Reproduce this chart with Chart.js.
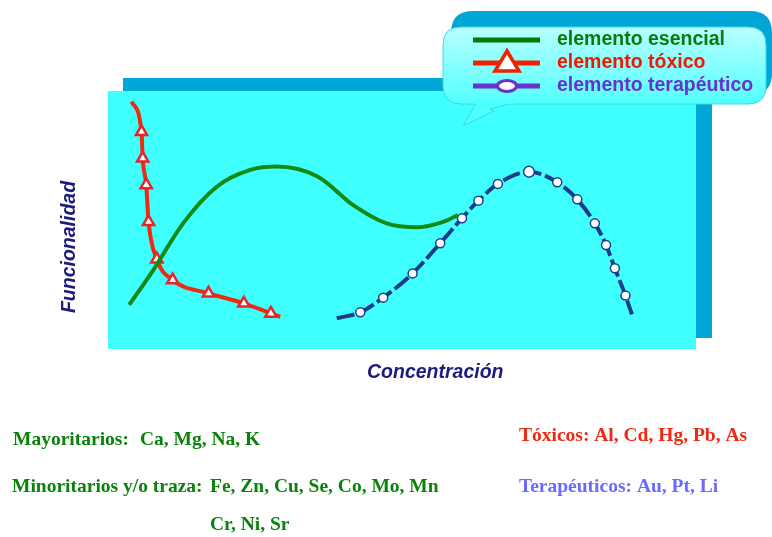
<!DOCTYPE html>
<html>
<head>
<meta charset="utf-8">
<script src="https://cdn.jsdelivr.net/npm/chart.js@4.4.1/dist/chart.umd.min.js"></script>
<style>
  html, body { margin: 0; padding: 0; background: #ffffff; }
  #wrap { width: 772px; height: 537px; }
</style>
</head>
<body>
<div id="wrap"><canvas id="c" width="772" height="537"></canvas></div>
<script>
// Series names shown in the callout legend
const seriesLabels = ['elemento esencial', 'elemento tóxico', 'elemento terapéutico'];

// Essential element: functionality vs concentration (0–100 scales)
const esencialX = [3.6, 7.7, 12.8, 18.5, 24.2, 28.7, 35.7, 41.7, 47.4, 52.5, 57.0, 59.5];
const esencialY = [17.1, 30.6, 48.8, 62.9, 69.4, 70.7, 66.8, 55.8, 48.7, 47.2, 49.3, 51.9];

// Toxic element
const toxicoX = [4.0, 5.7, 5.9, 6.5, 6.9, 8.3, 11.0, 17.1, 23.1, 27.7, 29.3];
const toxicoY = [95.9, 84.2, 73.9, 63.6, 49.3, 34.8, 26.7, 21.6, 17.7, 13.8, 12.5];
const toxicoMarks = [0, 1, 1, 1, 1, 1, 1, 1, 1, 1, 0];

// Therapeutic element
const terapeuticoX = [38.9, 42.9, 46.8, 51.8, 56.5, 60.2, 63.0, 66.3, 71.6, 76.4, 79.8, 82.8, 84.7, 86.2, 88.0, 89.1];
const terapeuticoY = [11.9, 14.2, 19.9, 29.3, 41.0, 50.7, 57.5, 64.0, 68.7, 64.6, 58.0, 48.7, 40.3, 31.3, 20.7, 13.4];
const terapeuticoMarks = [0, 1, 1, 1, 1, 1, 1, 1, 1.2, 1, 1, 1, 1, 1, 1, 0];

// Axis titles and element groups listed under the chart
const axisTitleX = 'Concentración';
const axisTitleY = 'Funcionalidad';
const grupos = [
  { label: 'Mayoritarios:', elementos: 'Ca, Mg, Na, K', color: '#0b820b' },
  { label: 'Minoritarios y/o traza:', elementos: 'Fe, Zn, Cu, Se, Co, Mo, Mn', resto: 'Cr, Ni, Sr', color: '#0b820b' },
  { label: 'Tóxicos:', elementos: 'Al, Cd, Hg, Pb, As', color: '#ee2a14' },
  { label: 'Terapéuticos:', elementos: 'Au, Pt, Li', color: '#6a6aff' }
];

const toPoints = (xs, ys) => xs.map((x, i) => ({ x: x, y: ys[i] }));

const COL_GREEN = '#138a13';
const COL_RED = '#ee2a10';
const COL_NAVY = '#1b3c88';

// Cyan plot panel with its offset darker backdrop
const panelPlugin = {
  id: 'panel',
  beforeDraw(chart) {
    const { ctx, chartArea: a } = chart;
    ctx.save();
    ctx.fillStyle = '#00a6d6';
    ctx.fillRect(a.left + 15, a.top - 13, a.right - a.left + 1, a.bottom - a.top + 2);
    ctx.fillStyle = '#40ffff';
    ctx.fillRect(a.left, a.top, a.right - a.left, a.bottom - a.top);
    ctx.restore();
  }
};

function roundRect(ctx, x, y, w, h, r) {
  ctx.beginPath();
  ctx.moveTo(x + r, y);
  ctx.lineTo(x + w - r, y);
  ctx.quadraticCurveTo(x + w, y, x + w, y + r);
  ctx.lineTo(x + w, y + h - r);
  ctx.quadraticCurveTo(x + w, y + h, x + w - r, y + h);
  ctx.lineTo(x + r, y + h);
  ctx.quadraticCurveTo(x, y + h, x, y + h - r);
  ctx.lineTo(x, y + r);
  ctx.quadraticCurveTo(x, y, x + r, y);
  ctx.closePath();
}

// Speech-bubble legend, axis titles and the element lists
const decorPlugin = {
  id: 'decor',
  afterDraw(chart) {
    const ctx = chart.ctx;
    ctx.save();

    // bubble backdrop
    ctx.fillStyle = '#00a6d6';
    roundRect(ctx, 451, 11, 321, 84, 22);
    ctx.fill();

    // bubble body with tail
    const grad = ctx.createLinearGradient(0, 27, 0, 108);
    grad.addColorStop(0, '#b8ffff');
    grad.addColorStop(0.45, '#8affff');
    grad.addColorStop(1, '#4dffff');
    roundRect(ctx, 443, 27, 323, 77, 18);
    ctx.fillStyle = grad;
    ctx.fill();
    ctx.strokeStyle = '#3cd8e8';
    ctx.lineWidth = 1;
    ctx.stroke();
    ctx.beginPath();
    ctx.moveTo(476, 103);
    ctx.lineTo(463, 126);
    ctx.lineTo(494, 111);
    ctx.lineTo(490, 109);
    ctx.lineTo(512, 103);
    ctx.closePath();
    ctx.fillStyle = '#4dffff';
    ctx.fill();
    ctx.strokeStyle = '#3cd8e8';
    ctx.stroke();
    ctx.fillStyle = '#4dffff';
    ctx.fillRect(474, 99, 40, 5);

    // legend rows
    const rows = [
      { y: 40, line: '#007a00', text: '#0a7a0a' },
      { y: 63, line: '#ee2200', text: '#ee1a00' },
      { y: 86, line: '#6633cc', text: '#6633cc' }
    ];
    rows.forEach((r, i) => {
      ctx.strokeStyle = r.line;
      ctx.lineWidth = 5;
      ctx.beginPath();
      ctx.moveTo(473, r.y);
      ctx.lineTo(540, r.y);
      ctx.stroke();
      if (i === 1) {
        ctx.beginPath();
        ctx.moveTo(507, 51);
        ctx.lineTo(519, 71);
        ctx.lineTo(495, 71);
        ctx.closePath();
        ctx.fillStyle = '#ffffff';
        ctx.fill();
        ctx.lineWidth = 3.5;
        ctx.lineJoin = 'miter';
        ctx.stroke();
      }
      if (i === 2) {
        ctx.beginPath();
        ctx.ellipse(507, 86, 9.5, 5.5, 0, 0, Math.PI * 2);
        ctx.fillStyle = '#ffffff';
        ctx.fill();
        ctx.lineWidth = 3;
        ctx.stroke();
      }
      ctx.fillStyle = r.text;
      ctx.font = "bold 19.5px 'Liberation Sans', Arial, sans-serif";
      ctx.textBaseline = 'middle';
      ctx.textAlign = 'left';
      ctx.fillText(chart.data.datasets[i].label, 557, r.y);
    });

    // axis titles
    ctx.fillStyle = '#1c1c7c';
    ctx.font = "italic bold 19.5px 'Liberation Sans', Arial, sans-serif";
    ctx.textBaseline = 'alphabetic';
    ctx.textAlign = 'left';
    ctx.fillText(axisTitleX, 367, 378);
    ctx.save();
    ctx.translate(75, 247);
    ctx.rotate(-Math.PI / 2);
    ctx.textAlign = 'center';
    ctx.fillText(axisTitleY, 0, 0);
    ctx.restore();

    // element groups
    ctx.font = "bold 19.5px 'Liberation Serif', 'Times New Roman', serif";
    ctx.textAlign = 'left';
    ctx.fillStyle = grupos[0].color;
    ctx.fillText(grupos[0].label, 13, 445);
    ctx.fillText(grupos[0].elementos, 140, 445);
    ctx.fillStyle = grupos[1].color;
    ctx.fillText(grupos[1].label, 12, 492);
    ctx.fillText(grupos[1].elementos, 210, 492);
    ctx.fillText(grupos[1].resto, 210, 530);
    ctx.fillStyle = grupos[2].color;
    ctx.fillText(grupos[2].label + ' ' + grupos[2].elementos, 519, 441);
    ctx.fillStyle = grupos[3].color;
    ctx.fillText(grupos[3].label + ' ' + grupos[3].elementos, 519, 492);

    ctx.restore();
  }
};

new Chart(document.getElementById('c'), {
  type: 'line',
  data: {
    datasets: [
      {
        label: seriesLabels[0],
        data: toPoints(esencialX, esencialY),
        borderColor: COL_GREEN,
        borderWidth: 4,
        pointRadius: 0,
        cubicInterpolationMode: 'monotone',
        fill: false
      },
      {
        label: seriesLabels[1],
        data: toPoints(toxicoX, toxicoY),
        borderColor: COL_RED,
        borderWidth: 4,
        pointStyle: 'triangle',
        pointRadius: toxicoMarks.map(m => m * 6.5),
        pointBackgroundColor: '#ffffff',
        pointBorderColor: '#e8262a',
        pointBorderWidth: 2.5,
        cubicInterpolationMode: 'monotone',
        fill: false
      },
      {
        label: seriesLabels[2],
        data: toPoints(terapeuticoX, terapeuticoY),
        borderColor: COL_NAVY,
        borderWidth: 4,
        borderDash: [18, 4],
        pointStyle: 'circle',
        pointRadius: terapeuticoMarks.map(m => m * 4.5),
        pointBackgroundColor: '#ffffff',
        pointBorderColor: COL_NAVY,
        pointBorderWidth: 1.5,
        cubicInterpolationMode: 'monotone',
        fill: false
      }
    ]
  },
  options: {
    responsive: false,
    animation: false,
    events: [],
    layout: { padding: { left: 108, right: 76, top: 91, bottom: 188 } },
    scales: {
      x: { type: 'linear', min: 0, max: 100, display: false },
      y: { type: 'linear', min: 0, max: 100, display: false }
    },
    plugins: {
      legend: { display: false },
      tooltip: { enabled: false },
      title: { display: false }
    }
  },
  plugins: [panelPlugin, decorPlugin]
});
</script>
</body>
</html>
